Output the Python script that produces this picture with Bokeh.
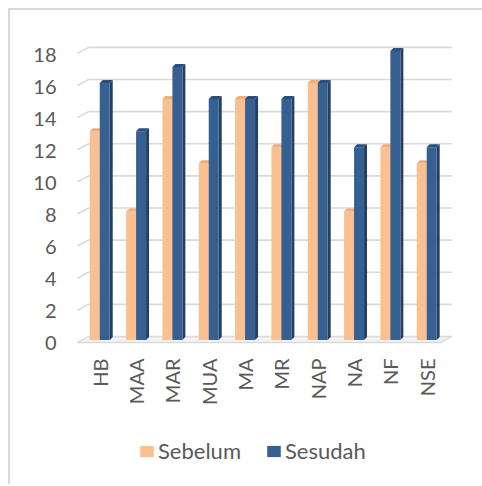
import numpy as np
from bokeh.plotting import figure
from bokeh.layouts import column
from bokeh.models import Range1d, FixedTicker, LinearAxis, Legend, LegendItem, ColumnDataSource
from bokeh.embed import file_html
from bokeh.resources import INLINE

# ---- data ----
categories = ["HB", "MAA", "MAR", "MUA", "MA", "MR", "NAP", "NA", "NF", "NSE"]
sebelum = [13, 8, 15, 11, 15, 12, 16, 8, 12, 11]
sesudah = [16, 13, 17, 15, 15, 15, 16, 12, 18, 12]
y_ticks = [0, 2, 4, 6, 8, 10, 12, 14, 16, 18]
series_names = ["Sebelum", "Sesudah"]

# ---- style ----
FONT = "Lato"
TXT = "#595959"
GRID = "#d9d9d9"
front_cols = ["#FAC090", "#376092"]
side_cols = ["#DDA273", "#233F63"]
top_cols = ["#EBAE7C", "#2C4E7A"]
W = 472

p = figure(width=W, height=400, output_backend="svg", toolbar_location=None,
           x_range=Range1d(-0.64, 9.82), y_range=Range1d(-0.623, 18.43),
           x_axis_location=None, y_axis_location=None,
           min_border_left=66, min_border_right=W - 446, min_border_top=30, min_border_bottom=64)
p.extra_y_ranges = {"bars": Range1d(-0.405, 18.65), "labels": Range1d(-0.25, 18.94)}
p.outline_line_color = None
p.xgrid.visible = False
p.ygrid.visible = False

# ---- back-wall gridlines with small perspective diagonal ----
xl_front, xl_back, x_right, diag = -0.613, -0.31, 9.69, 0.37
gt = [t for t in y_ticks if t > 0]
p.segment(x0=[xl_back] * len(gt), y0=gt, x1=[x_right] * len(gt), y1=gt,
          line_color=GRID, line_width=1.6)
p.segment(x0=[xl_front] * len(gt), y0=[t - diag for t in gt], x1=[xl_back] * len(gt), y1=gt,
          line_color=GRID, line_width=1.6)
# floor
p.patch(x=[xl_front, xl_back, x_right, x_right - (xl_back - xl_front)],
        y=[y_ticks[0] - diag, y_ticks[0], y_ticks[0], y_ticks[0] - diag],
        fill_color="#f2f2f2", line_color=GRID, line_width=1.4)

# ---- 3D-ish bars ----
w, d, h = 0.275, 0.082, 0.187
for k, vals in enumerate([sebelum, sesudah]):
    idx = np.arange(len(categories))
    v = np.array(vals, dtype=float)
    left = idx - w + k * w
    right = left + w
    src = ColumnDataSource(dict(left=left, right=right, top=v, bottom=np.zeros_like(v)))
    side_xs = [[r, r + d, r + d, r] for r in right]
    side_ys = [[0, h, t + h, t] for t in v]
    top_xs = [[l, r, r + d, l + d] for l, r in zip(left, right)]
    top_ys = [[t, t, t + h, t + h] for t in v]
    p.patches(xs=side_xs, ys=side_ys, fill_color=side_cols[k], line_color=None, y_range_name="bars")
    p.quad(left="left", right="right", top="top", bottom="bottom", source=src,
           fill_color=front_cols[k], line_color=None, y_range_name="bars")
    p.patches(xs=top_xs, ys=top_ys, fill_color=top_cols[k], line_color=None, y_range_name="bars")

# ---- axes ----
yax = LinearAxis(y_range_name="labels", ticker=FixedTicker(ticks=y_ticks))
yax.axis_line_color = None
yax.major_tick_line_color = None
yax.minor_tick_line_color = None
yax.major_tick_out = 0
yax.major_label_standoff = 20
yax.major_label_text_font = FONT
yax.major_label_text_font_size = "20px"
yax.major_label_text_color = TXT
p.add_layout(yax, "left")

xax = LinearAxis(ticker=FixedTicker(ticks=list(range(len(categories)))))
xax.major_label_overrides = {i: c for i, c in enumerate(categories)}
xax.major_label_orientation = np.pi / 2
xax.axis_line_color = None
xax.major_tick_line_color = None
xax.minor_tick_line_color = None
xax.major_tick_out = 0
xax.major_label_standoff = 12
xax.major_label_text_font = FONT
xax.major_label_text_font_size = "20px"
xax.major_label_text_color = TXT
p.add_layout(xax, "below")

# ---- legend strip (swatch renderers sit outside the visible range) ----
pl = figure(width=W, height=74, output_backend="svg", toolbar_location=None,
            x_range=Range1d(0, 1), y_range=Range1d(0, 1),
            x_axis_location=None, y_axis_location=None, min_border=0)
pl.outline_line_color = None
pl.xgrid.visible = False
pl.ygrid.visible = False
items = []
for n, c in zip(series_names, front_cols):
    r = pl.quad(left=[5], right=[6], top=[6], bottom=[5], fill_color=c, line_color=None)
    items.append(LegendItem(label=n, renderers=[r]))
legend = Legend(items=items, orientation="horizontal", location=(62, 20),
                glyph_width=17, glyph_height=14, label_height=14, label_standoff=3, spacing=24,
                padding=0, margin=0, border_line_color=None, background_fill_alpha=0,
                label_text_font=FONT, label_text_font_size="22px", label_text_color=TXT)
pl.add_layout(legend, "center")

layout = column(p, pl, spacing=0)
layout.styles = {"margin-left": "8px", "margin-top": "8px",
                 "border-left": "2px solid #d9d9d9", "border-top": "2px solid #d9d9d9"}

open("out.html", "w").write(file_html(layout, INLINE))
